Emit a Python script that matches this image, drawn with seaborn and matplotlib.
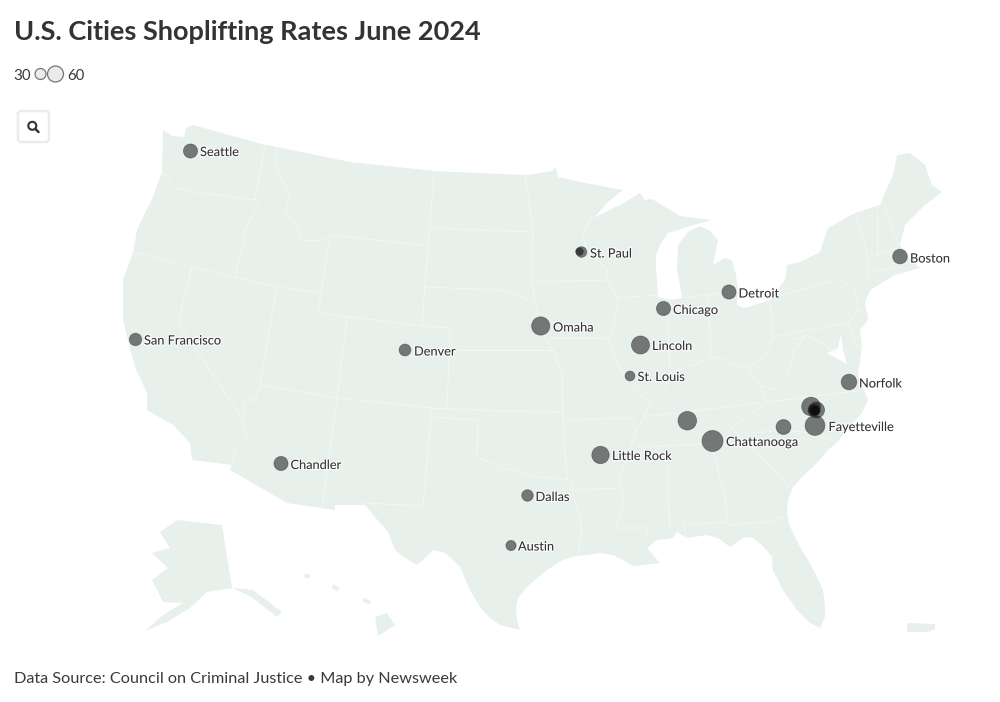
import matplotlib
matplotlib.use("Agg")
import matplotlib.pyplot as plt
import matplotlib.patheffects as pe
from matplotlib.patches import Circle, FancyBboxPatch, Polygon
import pandas as pd
import seaborn as sns

sns.set_style("white")
plt.rcParams['font.family'] = ['Lato', 'DejaVu Sans']

# map shapes, all in picture pixels (the map has no usable geo scale here)
lower48 = [(163,130),(172,136),(184,137),(186,128),(193,125),(265,145),(277,147),(350,162),(434,171),(500,174),(528,175),
           (553,171),(555,166),(558,177),(580,182),(623,190),(608,202),(595,217),(620,205),(640,193),(645,200),(652,199),(680,216),(712,220),
           (690,226),(668,233),(660,245),(656,255),(656,270),(657,280),(658,297),(670,300),(682,298),(680,285),(677,270),(678,245),(688,232),(700,226),(710,231),(718,240),(715,255),(713,265),(725,258),
           (732,260),(736,275),(738,290),(737,305),(745,308),(770,300),(785,280),(787,265),(800,262),(820,252),(828,228),(855,213),
           (880,205),(886,190),(893,175),(897,155),(910,153),(925,165),(932,185),(942,192),(925,205),(905,225),(900,245),(908,258),(920,268),
           (895,275),(870,290),(865,303),(868,320),(860,330),(862,345),(858,375),(868,400),(862,413),(853,423),(837,442),(828,450),(817,463),(803,476),(793,487),
           (788,500),(787,513),(789,524),(793,533),(800,547),(808,560),(816,575),(823,590),(825,605),(825,617),(820,628),(810,623),(797,610),(790,600),(783,590),(773,570),(772,557),(763,546),(753,538),
           (745,537),(737,542),(730,547),(718,538),(707,535),(687,538),(677,532),(673,538),(657,540),(647,548),(660,563),(633,566),(613,555),(600,553),(587,555),
           (575,556),(563,560),(550,568),(537,578),(527,587),(518,598),(516,608),(517,620),(520,630),(500,625),(490,618),(480,607),(470,590),(460,567),(453,560),(445,553),(433,550),(425,558),(417,565),(405,558),(395,550),(388,532),(375,517),(365,505),
           (335,505),(335,510),(287,503),(230,470),(232,465),(192,460),(190,443),(173,425),(147,410),(147,393),(140,378),(135,367),(128,340),
           (123,320),(123,280),(133,253),(137,230),(145,213),(153,197),(162,172)]
alaska = [(160,532),(177,520),(222,525),(232,588),(253,590),(282,612),(277,617),(253,598),(233,588),(207,592),(190,608),(167,622),
          (145,631),(163,615),(183,603),(163,602),(152,580),(168,568),(152,553),(170,548)]
hawaii = [(375,617),(387,613),(395,625),(378,636)]
maui = [(333,584),(340,588),(337,591),(332,588)]
oahu = [(363,598),(371,601),(370,604),(363,602)]
kauai = [(304,574),(310,574),(310,578),(305,578)]
puerto_rico = [(907,623),(935,624),(935,629),(927,632),(907,632)]
chesapeake = [(841,333),(838,348),(827,353),(847,364),(843,350)]

state_borders = [
    [(265,145),(255,200)], [(162,172),(175,188),(195,192),(255,200)], [(255,200),(258,208),(243,232),(245,236),(235,277)],
    [(277,147),(275,165),(290,195),(285,215),(293,218),(303,241),(325,240),(330,235)],
    [(330,235),(428,246),(422,326)], [(330,235),(318,313),(422,326),(450,328)],
    [(434,171),(430,228),(428,246)], [(430,228),(533,232)], [(425,287),(500,290),(517,295),(533,303)],
    [(525,175),(533,230),(532,282)], [(532,282),(607,280)], [(618,298),(657,295)],
    [(595,217),(590,218),(583,237),(587,250),(608,270),(607,280),(618,298),(615,320),(608,340),(613,353),(627,383),(650,403),(643,420),(637,430),(623,467),(620,480),(624,503),(615,528),(647,528),(648,540)],
    [(550,338),(608,338)], [(532,282),(535,303),(545,337),(553,350),(558,365),(562,370),(563,420)],
    [(450,350),(553,350)], [(450,328),(447,408)], [(347,318),(337,398)], [(337,398),(322,508)],
    [(133,252),(192,267),(235,277),(277,287),(321,293),(318,313)], [(277,287),(260,385)],
    [(260,385),(337,398),(432,408),(500,411),(563,412)], [(260,385),(255,400),(245,400),(243,420),(247,438),(235,450),(232,465)],
    [(192,267),(178,323),(243,420)], [(430,417),(478,420),(477,457),(500,467),(537,477),(572,480),(572,490),(582,527),(578,555)],
    [(432,408),(423,506),(363,503)], [(563,420),(567,480)], [(572,490),(622,488)], [(563,420),(633,418),(635,430),(637,430)],
    [(643,417),(767,402),(866,390)], [(637,447),(757,442)], [(767,402),(735,425),(713,445)], [(667,460),(670,533)],
    [(712,447),(725,497),(728,525),(777,521),(778,517),(787,517)], [(683,525),(728,522)], [(683,525),(687,537)],
    [(753,433),(783,430),(813,433),(837,442)], [(753,448),(790,488)], [(733,430),(753,448)],
    [(667,310),(670,373),(665,387),(650,403)], [(682,298),(707,295),(737,290)], [(707,295),(712,358)],
    [(670,373),(712,358),(720,357),(735,365),(748,368),(760,385),(767,402)],
    [(770,298),(773,337),(767,353),(748,368)], [(773,337),(847,323)], [(770,298),(840,279),(855,290),(858,310),(868,313)],
    [(848,323),(858,310)], [(760,385),(773,390),(787,377),(795,350),(807,335),(817,340),(835,352)], [(792,340),(807,335)],
    [(855,213),(867,253),(868,283)], [(877,210),(877,255)], [(883,203),(898,243)], [(868,257),(898,248)], [(867,272),(900,267)],
    [(893,268),(895,275)], [(848,323),(855,345),(862,345)],
]

# cities: position in picture pixels, rate estimated from the circle area
city_names = ['Seattle', 'San Francisco', 'Denver', 'Chandler', 'St. Paul', '', 'Omaha', 'Lincoln', 'Chicago', 'Detroit', 'Boston',
              'Norfolk', 'St. Louis', '', 'Chattanooga', 'Little Rock', 'Dallas', 'Austin', '', 'Fayetteville', '', '', '', '']
city_x = [190.5, 135.5, 405, 281, 581.5, 579.5, 540.7, 640.5, 663.5, 729, 900, 849, 630, 687.3, 712.5, 600.5, 527.5, 511, 783.5, 815,
          811, 816.5, 814, 815]
city_y = [151, 339.5, 350, 463.5, 252, 251.5, 326, 345, 308.5, 292, 256.5, 382, 376, 420.7, 441, 455, 495.5, 545.5, 427, 425.5,
          406.5, 410, 410, 410.5]
city_rate = [27, 21, 19, 27, 15, 8, 45, 44, 27, 27, 29, 33, 13, 47, 60, 41, 18, 14, 30, 53, 47, 35, 19, 15]
label_x = [200, 144, 414, 290.5, 590, None, 553, 652, 673, 738.5, 910, 859, 637.5, None, 726, 612, 535.5, 518, None, 828.5, None, None, None, None]
label_y = [152, 340.5, 351.5, 465, 253.5, None, 327.5, 346, 310, 293.5, 258.5, 383.5, 377, None, 442, 456, 497, 546.5, None, 427, None, None, None, None]

legend_values = [30, 60]
legend_x = [40.5, 55.5]
legend_radius_px = [5.5, 8]

LAND = '#e8f0eb'
BORDER = '#f1f6f3'
INK = '#3a3a3a'

fig = plt.figure(figsize=(10, 7.02), dpi=100)
ax = fig.add_axes([0, 0, 1, 1])

for shape in [lower48, alaska, hawaii, maui, oahu, kauai, puerto_rico]:
    ax.add_patch(Polygon(shape, closed=True, facecolor=LAND, edgecolor='none', zorder=1))
ax.add_patch(Polygon(chesapeake, closed=True, facecolor='white', edgecolor='none', zorder=2))
for line in state_borders:
    ax.plot([p[0] for p in line], [p[1] for p in line], color=BORDER, lw=0.8, zorder=2, solid_joinstyle='round')

cities = pd.DataFrame({'name': city_names, 'x': city_x, 'y': city_y, 'rate': city_rate})
# biggest circle is about 21 px across = 15.1 pt
sns.scatterplot(data=cities, x='x', y='y', size='rate', sizes=(0, 229), size_norm=(0, 60), color='#000000', alpha=0.5,
                edgecolor='#333333', linewidth=0.6, legend=False, zorder=3, ax=ax)

halo = [pe.withStroke(linewidth=1.8, foreground=(1, 1, 1, 0.75))]
for name, lx, ly in zip(city_names, label_x, label_y):
    if name:
        ax.text(lx, ly, name, fontsize=9.2, color='#333333', va='center', ha='left', zorder=4, path_effects=halo)

# title, size legend, footer
ax.text(13.5, 32.5, 'U.S. Cities Shoplifting Rates June 2024', fontsize=19.5, fontweight='bold', color='#333333', va='center')
ax.text(13.5, 75.5, str(legend_values[0]), fontsize=10.8, color=INK, va='center')
ax.text(67.5, 75.5, str(legend_values[1]), fontsize=10.8, color=INK, va='center')
for lx, r in zip(legend_x, legend_radius_px):
    ax.add_patch(Circle((lx, 74), r, facecolor='#ebebeb', edgecolor='#777777', lw=0.9))
ax.text(13.5, 679.5, 'Data Source: Council on Criminal Justice \u2022 Map by Newsweek', fontsize=11.7, color=INK, va='center')

# search button
ax.add_patch(FancyBboxPatch((18, 111), 31, 31, boxstyle='round,pad=0,rounding_size=3', facecolor='white', edgecolor='#ececec', lw=1.8))
ax.add_patch(Circle((32.3, 125.8), 4, facecolor='none', edgecolor='#333333', lw=1.5))
ax.plot([35.2, 38.5], [128.8, 132], color='#333333', lw=1.8, solid_capstyle='round')

ax.set_xlim(0, 1000)
ax.set_ylim(702, 0)
ax.axis('off')

fig.savefig('out.png', dpi=100, facecolor='white')
